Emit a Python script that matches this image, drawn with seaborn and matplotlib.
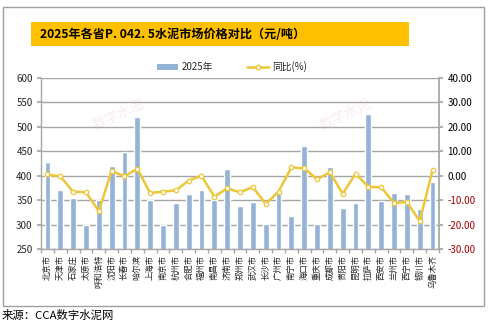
import matplotlib
matplotlib.use("Agg")
import matplotlib.pyplot as plt
import seaborn as sns
import pandas as pd
import numpy as np
from matplotlib.patches import Rectangle, Patch
from matplotlib.lines import Line2D

cities = ["北京市", "天津市", "石家庄", "太原市", "呼和浩特", "沈阳市", "长春市", "哈尔滨",
          "上海市", "南京市", "杭州市", "合肥市", "福州市", "南昌市", "济南市", "郑州市",
          "武汉市", "长沙市", "广州市", "南宁市", "海口市", "重庆市", "成都市", "贵阳市",
          "昆明市", "拉萨市", "西安市", "兰州市", "西宁市", "银川市", "乌鲁木齐"]
price_2025 = [428, 370, 355, 300, 350, 420, 449, 520,
              350, 300, 345, 362, 370, 351, 414, 339,
              346, 302, 364, 317, 460, 301, 418, 334,
              345, 526, 349, 365, 362, 332, 388]
yoy_pct = [0.5, -0.3, -6.5, -6.8, -14.5, 2.0, -0.3, 2.9,
           -7.1, -6.5, -6.0, -2.0, 0.0, -8.6, -5.2, -6.8,
           -4.6, -11.6, -6.5, 3.4, 3.0, -1.4, 1.4, -7.4,
           0.8, -4.5, -4.8, -11.1, -10.8, -18.6, 2.3]
left_ticks = [250, 300, 350, 400, 450, 500, 550, 600]
right_ticks = [-30, -20, -10, 0, 10, 20, 30, 40]
title_text = "2025年各省P. 042. 5水泥市场价格对比（元/吨）"
legend_labels = ["2025年", "同比(%)"]
source_text = "来源：CCA数字水泥网"

BAR = "#95B3D7"
LINE = "#EEC637"
GRID = "#A6A6A6"

sns.set_theme(style="white")
plt.rcParams['font.family'] = ['Noto Sans CJK SC', 'DejaVu Sans']

W, H = 494, 324
fig = plt.figure(figsize=(W / 100, H / 100), dpi=100)
fig.patch.set_facecolor("white")

# outer frame
fig.patches.append(Rectangle((3 / W, 1 - 306 / H), 481 / W, 299 / H, transform=fig.transFigure,
                             facecolor="none", edgecolor="#A0A0A0", linewidth=1.0))
# title box
fig.patches.append(Rectangle((31 / W, 1 - 46 / H), 378 / W, 24 / H, transform=fig.transFigure,
                             facecolor="#FFC000", edgecolor="none"))
fig.text(40 / W, 1 - 34 / H, title_text, fontsize=8.7, fontweight="bold", color="black",
         ha="left", va="center")

ax = fig.add_axes([41 / W, 1 - 249 / H, 398 / W, 171 / H])
df = pd.DataFrame({"city": cities, "price": price_2025, "yoy": yoy_pct})
sns.barplot(data=df, x="city", y="price", color=BAR, saturation=1, width=0.45, ax=ax, zorder=2)
ax.set_ylim(250, 600)
ax.set_yticks(left_ticks)
ax.set_yticklabels([str(v) for v in left_ticks], fontsize=7)
ax.yaxis.grid(True, color=GRID, linewidth=1.0, zorder=0)
ax.set_axisbelow(True)
for s in ["top", "right"]:
    ax.spines[s].set_visible(False)
for s in ["left", "bottom"]:
    ax.spines[s].set_color(GRID)
    ax.spines[s].set_linewidth(1.0)
ax.tick_params(axis="y", which="major", direction="out", length=3, color=GRID, pad=3, left=True)

ax2 = ax.twinx()
sns.pointplot(data=df, x="city", y="yoy", color=LINE, markers="o", errorbar=None, ax=ax2,
              markersize=3.2, linewidth=1.8, markerfacecolor="white",
              markeredgecolor=LINE, markeredgewidth=0.9)
ax2.set_ylim(-30, 40)
ax2.set_yticks(right_ticks)
ax2.set_yticklabels([f"{v:.2f}" for v in right_ticks], fontsize=7)
for lbl, v in zip(ax2.get_yticklabels(), right_ticks):
    lbl.set_color("#A00000" if v < 0 else "black")
for s in ["top", "left", "bottom"]:
    ax2.spines[s].set_visible(False)
ax2.spines["right"].set_color(GRID)
ax2.tick_params(axis="y", which="major", direction="out", length=3, color=GRID, pad=3, right=True)
ax2.set_ylabel("")
ax2.set_xlabel("")

n = len(cities)
ax.set_xlim(-0.5, n - 0.5)
ax.set_xticks(range(n))
ax.set_xticklabels(cities, rotation=90, fontsize=6, va="top", ha="center")
ax.set_xticks(np.arange(-0.5, n, 1.0), minor=True)
ax.tick_params(axis="x", which="major", length=0, pad=4)
ax.tick_params(axis="x", which="minor", direction="out", length=3, color=GRID, bottom=True)
ax.set_xlabel("")
ax.set_ylabel("")

handles = [Patch(facecolor=BAR, edgecolor="none"),
           Line2D([0], [0], color=LINE, linewidth=1.8, marker="o", markersize=3.2,
                  markerfacecolor="white", markeredgecolor=LINE)]
fig.legend(handles, legend_labels, loc="center", bbox_to_anchor=(232 / W, 1 - 67 / H), ncol=2,
           frameon=False, fontsize=7, handlelength=2.2, handleheight=0.6, columnspacing=3.5,
           handletextpad=0.4)

# faint watermarks
for wx in (118 / W, 345 / W):
    fig.text(wx, 1 - 115 / H, "数字水泥", fontsize=10, color="#E8A0A0", alpha=0.2,
             rotation=25, ha="center", va="center")

fig.text(2 / W, 1 - 315 / H, source_text, fontsize=8.2, color="black", ha="left", va="center")

fig.savefig("out.png", dpi=100)
